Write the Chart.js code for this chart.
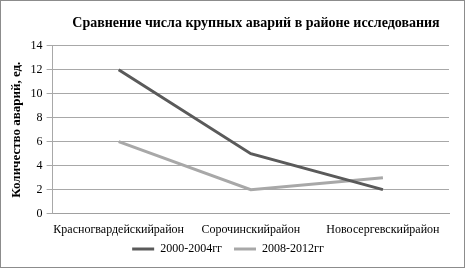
<!DOCTYPE html>
<html>
<head>
<meta charset="utf-8">
<script src="https://cdn.jsdelivr.net/npm/chart.js@4"></script>
<style>
  body { margin: 0; background: #fff; }
  #wrap { width: 465px; height: 268px; box-sizing: border-box; border: 1px solid #8c8c8c; position: relative; }
</style>
</head>
<body>
<div id="wrap"><canvas id="myChart"></canvas></div>
<script>
const rayony = ['Красногвардейскийрайон', 'Сорочинскийрайон', 'Новосергевскийрайон'];
const period1 = [12, 5, 2];
const period2 = [6, 2, 3];
const yTicks = [0, 2, 4, 6, 8, 10, 12, 14];
const titleText = 'Сравнение числа крупных аварий в районе исследования';

const ctx = document.getElementById('myChart');

// legend: keep wide gaps between items but less space above them
const legendTweak = {
  id: 'legendTweak',
  beforeInit(chart) {
    const fit = chart.legend.fit;
    chart.legend.fit = function () { fit.call(this); this.height -= 9; };
    const draw = chart.legend.draw;
    chart.legend.draw = function () {
      this.ctx.save();
      this.ctx.translate(0, -7);
      draw.call(this);
      this.ctx.restore();
    };
  }
};

new Chart(ctx, {
  type: 'line',
  data: {
    labels: rayony,
    datasets: [{
      label: '2000-2004гг',
      data: period1,
      borderColor: '#5a5a5a',
      backgroundColor: '#5a5a5a',
      borderWidth: 3,
      pointRadius: 0,
      tension: 0
    }, {
      label: '2008-2012гг',
      data: period2,
      borderColor: '#a8a8a8',
      backgroundColor: '#a8a8a8',
      borderWidth: 3,
      pointRadius: 0,
      tension: 0
    }]
  },
  plugins: [legendTweak],
  options: {
    responsive: true,
    maintainAspectRatio: false,
    animation: false,
    layout: { padding: { left: 6, right: 15, top: 6, bottom: 4 } },
    plugins: {
      title: {
        display: true,
        // leading spaces push the title right, like in the original
        text: '\u00a0'.repeat(16) + titleText,
        color: '#000',
        font: { family: 'Liberation Serif', size: 14, weight: 'bold' },
        padding: { top: 8, bottom: 14 }
      },
      legend: {
        position: 'bottom',
        labels: {
          usePointStyle: true,
          pointStyle: 'line',
          pointStyleWidth: 22,
          color: '#000',
          font: { family: 'Liberation Serif', size: 12 },
          boxWidth: 22,
          padding: 12
        }
      },
      tooltip: { enabled: false }
    },
    scales: {
      x: {
        offset: true,
        grid: { display: false },
        border: { color: '#a0a0a0' },
        ticks: {
          color: '#000',
          font: { family: 'Liberation Serif', size: 12 },
          maxRotation: 0,
          autoSkip: false,
          padding: 1
        }
      },
      y: {
        min: 0,
        max: 14,
        afterBuildTicks: axis => { axis.ticks = yTicks.map(v => ({ value: v })); },
        grid: { color: '#a8a8a8', tickLength: 6 },
        border: { color: '#a8a8a8' },
        ticks: {
          color: '#000',
          font: { family: 'Liberation Serif', size: 12 },
          padding: 4
        },
        title: {
          display: true,
          text: 'Количество аварий, ед.',
          color: '#000',
          font: { family: 'Liberation Serif', size: 13, weight: 'bold' },
          padding: 2
        }
      }
    }
  }
});
</script>
</body>
</html>
